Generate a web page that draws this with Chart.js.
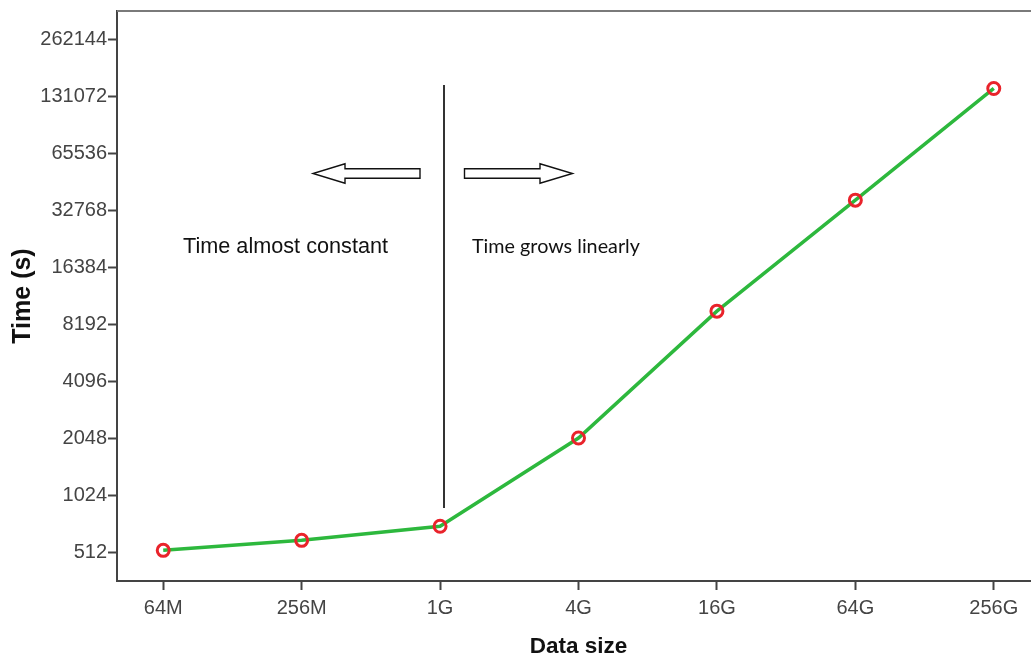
<!DOCTYPE html>
<html>
<head>
<meta charset="utf-8">
<script src="https://cdn.jsdelivr.net/npm/chart.js@4"></script>
<style>
html,body{margin:0;padding:0;overflow:hidden;background:#fff;}
#wrap{position:absolute;left:0;top:0;width:1049px;height:658px;}
</style>
</head>
<body>
<div id="wrap"><canvas id="c" width="1049" height="658" style="width:1049px;height:658px"></canvas></div>
<script>
// ---- data ----
const categories = ["64M", "256M", "1G", "4G", "16G", "64G", "256G"];
const times = [526, 594, 705, 2060, 9620, 37060, 143900];
const yTicks = [512, 1024, 2048, 4096, 8192, 16384, 32768, 65536, 131072, 262144];
const yTitle = "Time (s)";
const xTitle = "Data size";
const leftNote = "Time almost constant";
const rightNote = "Time grows linearly";

const points = times.map((t, i) => ({x: i, y: t}));

const annot = {
  id: 'annot',
  afterDraw(chart) {
    const ctx = chart.ctx;
    const a = chart.chartArea;
    ctx.save();
    // top frame line
    ctx.strokeStyle = '#7a7a7a';
    ctx.lineWidth = 2;
    ctx.beginPath();
    ctx.moveTo(a.left, a.top);
    ctx.lineTo(a.right, a.top);
    ctx.stroke();
    // vertical divider
    ctx.strokeStyle = '#333';
    ctx.lineWidth = 2;
    ctx.beginPath();
    ctx.moveTo(444, 85);
    ctx.lineTo(444, 508);
    ctx.stroke();
    // arrows
    ctx.lineWidth = 1.4;
    ctx.strokeStyle = '#111';
    ctx.fillStyle = '#fff';
    const cy = 173.5, sh = 4.8, hh = 9.7;
    ctx.beginPath();
    ctx.moveTo(420, cy - sh);
    ctx.lineTo(345, cy - sh);
    ctx.lineTo(345, cy - hh);
    ctx.lineTo(313, cy);
    ctx.lineTo(345, cy + hh);
    ctx.lineTo(345, cy + sh);
    ctx.lineTo(420, cy + sh);
    ctx.closePath();
    ctx.fill(); ctx.stroke();
    ctx.beginPath();
    ctx.moveTo(464.5, cy - sh);
    ctx.lineTo(540, cy - sh);
    ctx.lineTo(540, cy - hh);
    ctx.lineTo(572.5, cy);
    ctx.lineTo(540, cy + hh);
    ctx.lineTo(540, cy + sh);
    ctx.lineTo(464.5, cy + sh);
    ctx.closePath();
    ctx.fill(); ctx.stroke();
    // notes
    ctx.fillStyle = '#111';
    ctx.textBaseline = 'alphabetic';
    ctx.textAlign = 'left';
    ctx.font = '21px "Liberation Sans", Arial, sans-serif';
    let w = ctx.measureText(leftNote).width;
    let s = 21 * 205 / w;
    ctx.font = s.toFixed(2) + 'px "Liberation Sans", Arial, sans-serif';
    ctx.fillText(leftNote, 183, 253);
    ctx.font = '20px Lato, "Open Sans", sans-serif';
    w = ctx.measureText(rightNote).width;
    s = 20 * 168 / w;
    ctx.font = s.toFixed(2) + 'px Lato, "Open Sans", sans-serif';
    ctx.fillText(rightNote, 472, 253);
    ctx.restore();
  }
};

const tickFont = {family: '"Liberation Sans", Arial, sans-serif', size: 20};

new Chart(document.getElementById('c'), {
  type: 'line',
  data: {
    datasets: [{
      data: points,
      borderColor: '#2db83d',
      borderWidth: 3.5,
      pointRadius: 6,
      pointHoverRadius: 6,
      pointBorderWidth: 3,
      pointBorderColor: '#e9232b',
      pointBackgroundColor: 'rgba(0,0,0,0)',
      tension: 0,
      fill: false
    }]
  },
  options: {
    responsive: false,
    animation: false,
    devicePixelRatio: 1,
    layout: {padding: {top: 11, right: 1, left: 0, bottom: 0}},
    plugins: {legend: {display: false}, tooltip: {enabled: false}},
    scales: {
      x: {
        type: 'linear',
        min: -0.334,
        max: 6.334,
        afterBuildTicks(scale) { scale.ticks = categories.map((_, i) => ({value: i})); },
        afterFit(scale) { scale.height = 77; scale.paddingLeft = 0; scale.paddingRight = 0; },
        ticks: {
          autoSkip: false, maxRotation: 0, minRotation: 0,
          color: '#444', font: tickFont, padding: 6,
          callback: (v) => categories[v]
        },
        grid: {drawOnChartArea: false, drawTicks: true, tickLength: 9, tickColor: '#444', tickWidth: 2},
        border: {display: true, color: '#444', width: 2},
        title: {display: true, text: xTitle, color: '#111', font: {family: '"Liberation Sans", Arial, sans-serif', size: 22.5, weight: 'bold', lineHeight: 1}, padding: {top: 0, bottom: 0}}
      },
      y: {
        type: 'logarithmic',
        min: 362.5,
        max: 368800,
        afterBuildTicks(scale) { scale.ticks = yTicks.map(v => ({value: v})); },
        afterFit(scale) { scale.width = 117; scale.paddingTop = 0; scale.paddingBottom = 0; },
        ticks: {
          autoSkip: false, color: '#444', font: tickFont, padding: 1,
          callback: (v) => String(v)
        },
        grid: {drawOnChartArea: false, drawTicks: true, tickLength: 9, tickColor: '#444', tickWidth: 2},
        border: {display: true, color: '#444', width: 2},
        title: {display: true, text: yTitle, color: '#111', font: {family: '"Liberation Sans", Arial, sans-serif', size: 25, weight: 'bold', lineHeight: 1}, padding: {top: 11, bottom: 0}}
      }
    }
  },
  plugins: [annot]
});
</script>
</body>
</html>
